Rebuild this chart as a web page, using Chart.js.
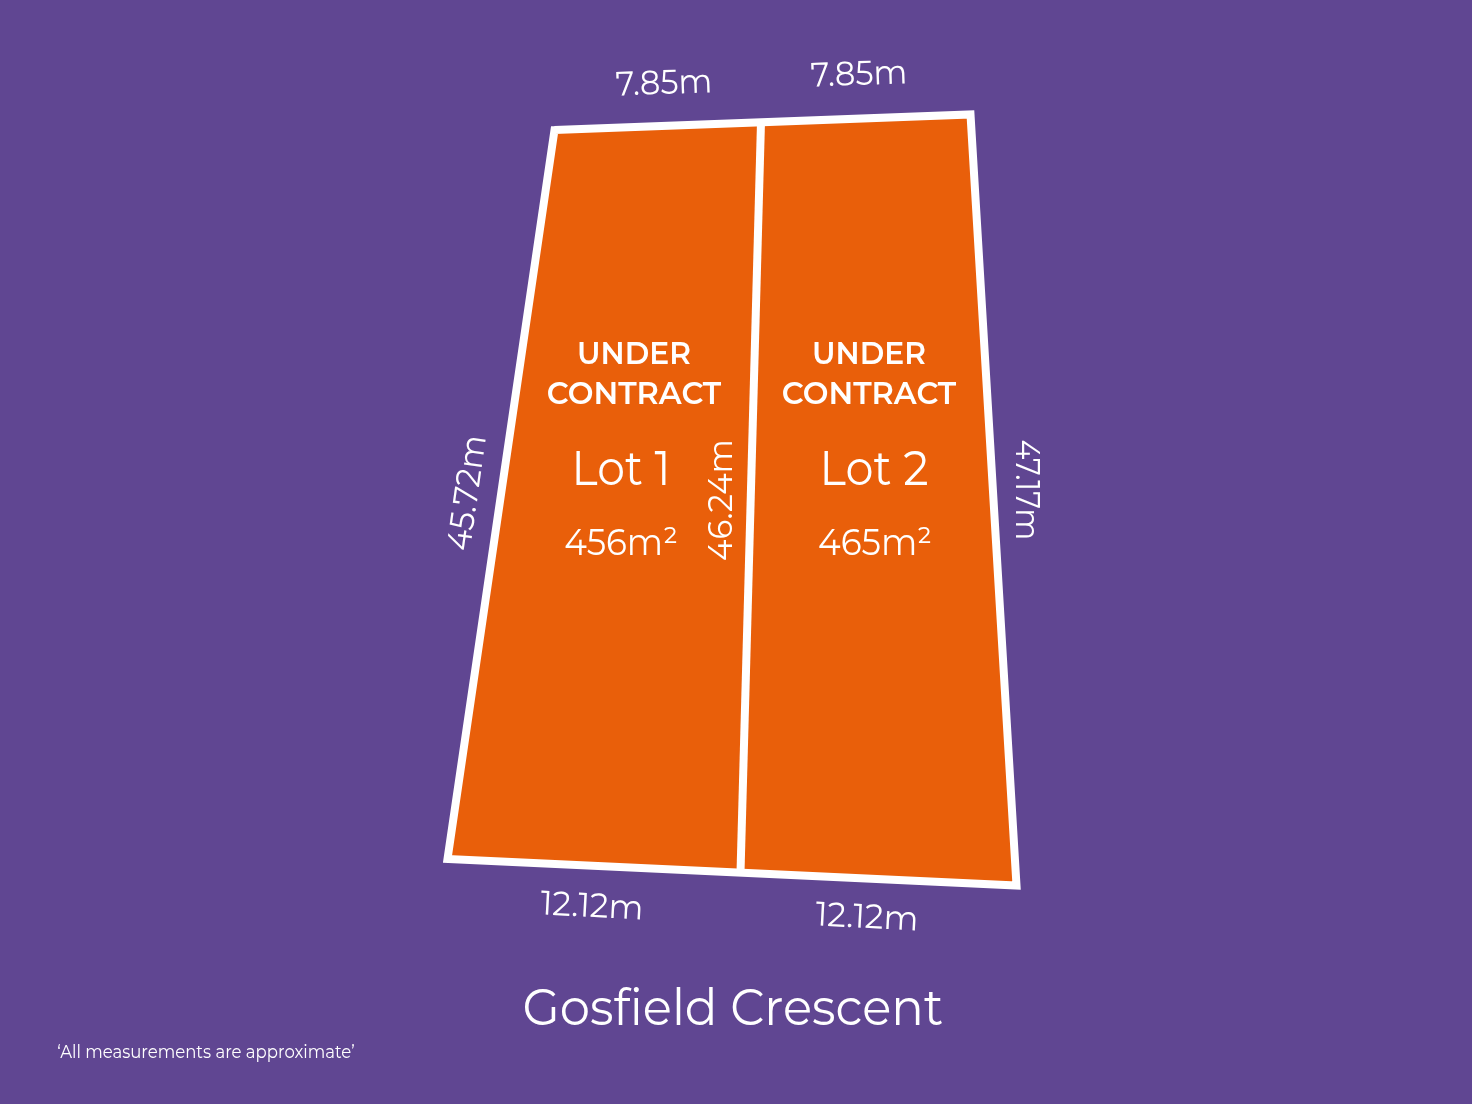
<!DOCTYPE html>
<html>
<head>
<meta charset="utf-8">
<title>Gosfield Crescent</title>
<script src="https://cdn.jsdelivr.net/npm/chart.js@4"></script>
<style>
  html, body { margin: 0; padding: 0; background: #604692; }
  #wrap { width: 1472px; height: 1104px; }
</style>
</head>
<body>
<div id="wrap"><canvas id="plan"></canvas></div>
<script>
// plot corners (centre of the white line)
const lot1Corners = [[554.5, 130], [761, 122], [740.5, 872.5], [447.5, 859]];
const lot2Corners = [[761, 122], [970.5, 114.5], [1016.5, 885.5], [740.5, 872.5]];
const outlineCorners = [[554.5, 130], [970.5, 114.5], [1016.5, 885.5], [447.5, 859]];
const dividerEnds = [[761, 122], [740.5, 872.5]];

const lotFill = '#e95f0a';
const lineColor = '#ffffff';
const bgColor = '#604692';

// text, size, weight, x, y, rotation in degrees, horizontal squeeze
const labelText = ['7.85m', '7.85m', '45.72m', '46.24m', '47.17m', '12.12m', '12.12m',
  'UNDER', 'CONTRACT', 'UNDER', 'CONTRACT', 'Lot 1', 'Lot 2', '456m²', '465m²',
  'Gosfield Crescent', '‘All measurements are approximate’'];
const labelSize = [34, 34, 34, 34, 34, 34, 34, 31, 31, 31, 31, 48, 48, 38, 38, 50, 18];
const labelWeight = [400, 400, 400, 400, 400, 400, 400, 600, 600, 600, 600, 400, 400, 400, 400, 400, 400];
const labelX = [664, 859, 468, 722, 1026, 592, 867, 634, 634, 869, 869, 621, 874, 621, 875, 733, 206];
const labelY = [84, 75, 493, 500, 490, 907, 918, 355, 395, 355, 395, 471, 471, 544, 544, 1010, 1053];
const labelAngle = [-2, -2, -82, -90, 90, 3, 3, 0, 0, 0, 0, 0, 0, 0, 0, 0, 0];
const labelSqueeze = [0.94, 0.94, 0.94, 0.95, 0.89, 0.97, 0.97, 0.96, 0.985, 0.96, 0.985, 0.92, 0.93, 0.9, 0.9, 0.963, 0.917];

const toPoints = corners => corners.map(c => ({ x: c[0], y: c[1] }));
// run one corner past the close so the first join gets mitred too
const closed = corners => corners.concat([corners[0], corners[1]]);

const lotDataset = corners => ({
  data: toPoints(closed(corners)),
  showLine: true,
  fill: 'shape',
  backgroundColor: lotFill,
  borderWidth: 0,
  pointRadius: 0,
  tension: 0,
  order: 3
});

const lineDataset = points => ({
  data: toPoints(points),
  showLine: true,
  fill: false,
  borderColor: lineColor,
  borderWidth: 8,
  borderJoinStyle: 'miter',
  pointRadius: 0,
  tension: 0,
  order: 1
});

const labelsPlugin = {
  id: 'planLabels',
  afterDatasetsDraw(chart) {
    const { ctx, scales } = chart;
    labelText.forEach((text, i) => {
      ctx.save();
      ctx.translate(scales.x.getPixelForValue(labelX[i]), scales.y.getPixelForValue(labelY[i]));
      ctx.rotate(labelAngle[i] * Math.PI / 180);
      ctx.scale(labelSqueeze[i], 1);
      ctx.font = `${labelWeight[i]} ${labelSize[i]}px Montserrat, Lato, "Open Sans", sans-serif`;
      ctx.fillStyle = lineColor;
      ctx.textAlign = 'center';
      ctx.textBaseline = 'middle';
      ctx.fillText(text, 0, 0);
      ctx.restore();
    });
  }
};

const bgPlugin = {
  id: 'planBg',
  beforeDraw(chart) {
    chart.ctx.fillStyle = bgColor;
    chart.ctx.fillRect(0, 0, chart.width, chart.height);
  }
};

new Chart(document.getElementById('plan'), {
  type: 'scatter',
  data: {
    datasets: [
      lotDataset(lot1Corners),
      lotDataset(lot2Corners),
      lineDataset(dividerEnds),
      lineDataset(closed(outlineCorners))
    ]
  },
  options: {
    responsive: true,
    maintainAspectRatio: false,
    animation: false,
    layout: { padding: 0 },
    plugins: { legend: { display: false }, tooltip: { enabled: false } },
    scales: {
      x: { type: 'linear', min: 0, max: 1472, display: false },
      y: { type: 'linear', min: 0, max: 1104, reverse: true, display: false }
    }
  },
  plugins: [bgPlugin, labelsPlugin]
});
</script>
</body>
</html>
